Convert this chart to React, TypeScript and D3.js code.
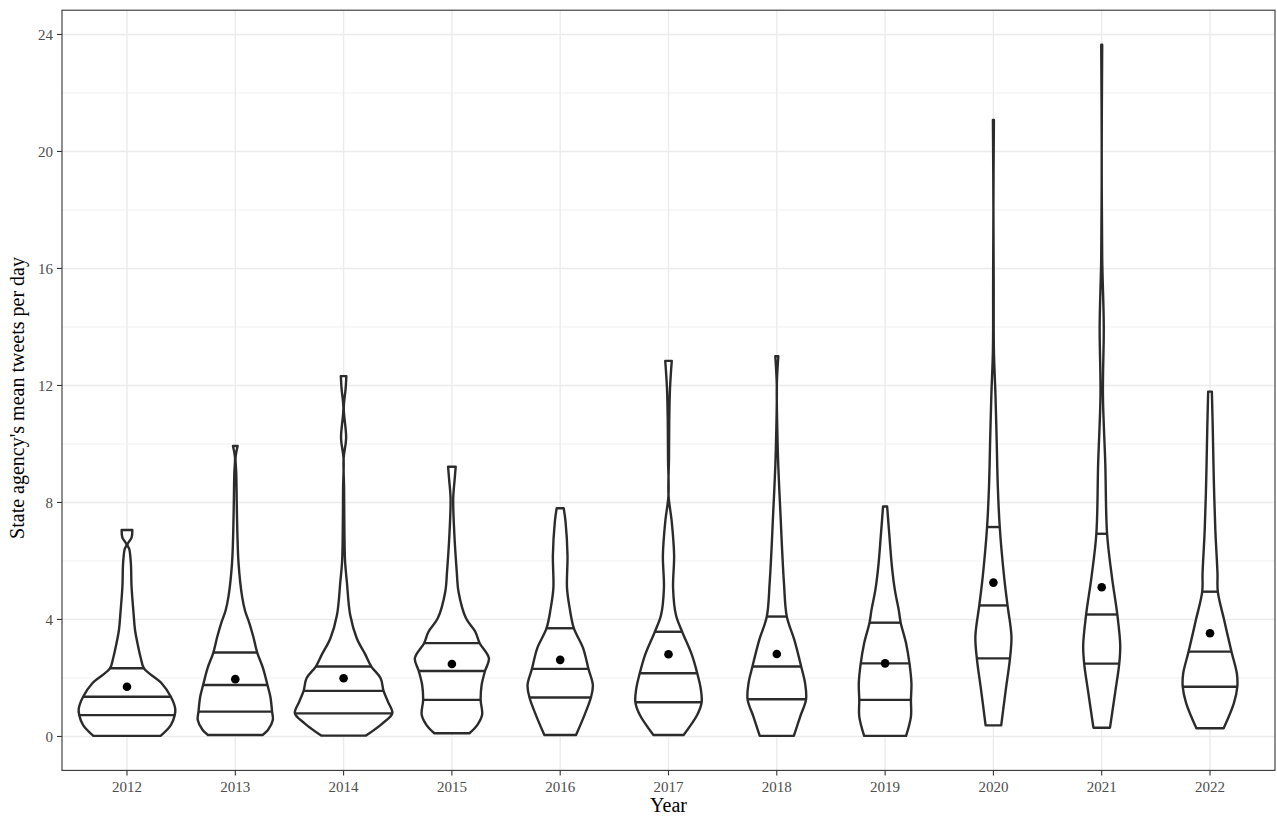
import React from 'react';
import * as d3 from 'd3';

const years = ['2012', '2013', '2014', '2015', '2016', '2017', '2018', '2019', '2020', '2021', '2022'];
const q25 = [0.73, 0.85, 0.79, 1.25, 1.33, 1.17, 1.27, 1.25, 2.67, 2.49, 1.70];
const q50 = [1.36, 1.76, 1.56, 2.24, 2.31, 2.16, 2.39, 2.50, 4.48, 4.17, 2.90];
const q75 = [2.33, 2.87, 2.39, 3.19, 3.70, 3.58, 4.10, 3.89, 7.16, 6.93, 4.95];
const means = [1.70, 1.96, 1.99, 2.48, 2.62, 2.81, 2.82, 2.50, 5.26, 5.10, 3.53];

// [value, relative density width]
const profile2012: [number, number][] = [
  [0.02, 0.69], [0.39, 0.9], [0.73, 0.98], [0.95, 0.99], [1.36, 0.9], [1.82, 0.71], [2.33, 0.35],
  [2.7, 0.28], [3.07, 0.23], [3.64, 0.165], [4.21, 0.135], [5.12, 0.094], [5.92, 0.08], [6.4, 0.048],
  [6.56, 0.01], [6.8, 0.094], [7.06, 0.11],
];
const profile2013: [number, number][] = [
  [0.05, 0.56], [0.22, 0.67], [0.56, 0.77], [0.85, 0.755], [1.36, 0.72], [1.76, 0.66], [2.33, 0.57],
  [2.87, 0.45], [3.41, 0.37], [3.87, 0.29], [4.3, 0.2], [4.78, 0.14], [5.92, 0.067], [7.0, 0.042],
  [8.0, 0.03], [9.0, 0.02], [9.55, 0.006], [9.93, 0.048],
];
const profile2014: [number, number][] = [
  [0.03, 0.46], [0.45, 0.8], [0.79, 1.0], [1.19, 0.91], [1.56, 0.82], [1.99, 0.76], [2.39, 0.57],
  [2.79, 0.45], [3.36, 0.27], [4.15, 0.136], [5.29, 0.067], [6.0, 0.03], [7.0, 0.017], [8.5, 0.01],
  [9.5, 0.0], [10.2, 0.052], [11.22, 0.004], [11.9, 0.042], [12.32, 0.057],
];
const profile2015: [number, number][] = [
  [0.11, 0.36], [0.39, 0.52], [0.74, 0.62], [1.25, 0.59], [1.76, 0.61], [2.24, 0.68], [2.67, 0.76],
  [3.19, 0.57], [3.58, 0.48], [4.04, 0.29], [4.95, 0.136], [5.63, 0.1], [7.0, 0.048], [8.14, 0.027],
  [8.83, 0.059], [9.22, 0.078],
];
const profile2016: [number, number][] = [
  [0.05, 0.325], [0.74, 0.5], [1.33, 0.63], [1.76, 0.67], [2.31, 0.58], [3.02, 0.47], [3.7, 0.28],
  [4.38, 0.195], [5.07, 0.14], [6.2, 0.15], [7.34, 0.11], [7.8, 0.073],
];
const profile2017: [number, number][] = [
  [0.05, 0.31], [0.74, 0.59], [1.17, 0.68], [1.65, 0.66], [2.16, 0.59], [2.79, 0.48], [3.58, 0.28],
  [4.15, 0.153], [5.07, 0.094], [6.2, 0.115], [7.34, 0.067], [8.26, 0.0], [9.5, 0.01], [10.76, 0.015],
  [11.9, 0.031], [12.84, 0.067],
];
const profile2018: [number, number][] = [
  [0.02, 0.35], [0.68, 0.48], [1.27, 0.6], [1.82, 0.58], [2.39, 0.5], [3.3, 0.36], [4.1, 0.205],
  [5.24, 0.147], [6.38, 0.109], [7.51, 0.078], [9.22, 0.031], [10.5, 0.01], [12.0, 0.0], [13.0, 0.031],
];
const profile2019: [number, number][] = [
  [0.02, 0.43], [0.68, 0.53], [1.25, 0.53], [1.82, 0.54], [2.5, 0.5], [3.19, 0.43], [3.89, 0.32],
  [4.32, 0.28], [5.01, 0.2], [5.81, 0.14], [6.95, 0.084], [7.86, 0.042],
];
const profile2020: [number, number][] = [
  [0.38, 0.16], [1.55, 0.25], [2.67, 0.34], [3.42, 0.37], [4.48, 0.29], [5.45, 0.22], [7.16, 0.13],
  [8.56, 0.09], [10.12, 0.067], [11.68, 0.042], [13.2, 0.01], [15.5, 0.006], [18.0, 0.0], [21.08, 0.01],
];
const profile2021: [number, number][] = [
  [0.3, 0.17], [1.55, 0.28], [2.49, 0.36], [3.11, 0.38], [4.17, 0.32], [5.45, 0.21], [6.93, 0.11],
  [9.34, 0.073], [11.68, 0.025], [14.02, 0.042], [16.36, 0.01], [20.0, 0.0], [23.65, 0.01],
];
const profile2022: [number, number][] = [
  [0.28, 0.28], [1.14, 0.49], [1.7, 0.56], [2.16, 0.55], [2.9, 0.44], [3.98, 0.29], [4.95, 0.16],
  [5.58, 0.153], [7.06, 0.109], [8.77, 0.078], [10.48, 0.057], [11.79, 0.038],
];
const profiles = [
  profile2012, profile2013, profile2014, profile2015, profile2016, profile2017,
  profile2018, profile2019, profile2020, profile2021, profile2022,
];

const yTicks = [0, 4, 8, 12, 16, 20, 24];
const yMinorTicks = [2, 6, 10, 14, 18, 22];

function widthAt(p: [number, number][], v: number): number {
  if (v <= p[0][0]) return p[0][1];
  for (let i = 0; i < p.length - 1; i++) {
    const [a, wa] = p[i];
    const [b, wb] = p[i + 1];
    if (v >= a && v <= b) return wa + ((v - a) / (b - a)) * (wb - wa);
  }
  return p[p.length - 1][1];
}

export default function App() {
  const W = 1277;
  const H = 816;
  const left = 62;
  const right = 1275;
  const top = 10.2;
  const bottom = 770.4;
  const font = '"Liberation Serif", "Times New Roman", serif';

  const x = d3.scalePoint<string>().domain(years).range([left, right]).padding(0.6);
  const y = d3.scaleLinear().domain([-1.16, 24.83]).range([bottom, top]);
  const w = d3.scaleLinear().domain([0, 1]).range([0, x.step() * 0.45]);

  const stroke = '#2b2b2b';

  return (
    <svg
      width={W}
      height={H}
      style={{ position: 'absolute', left: 0, top: 0, background: '#fff' }}
      xmlns="http://www.w3.org/2000/svg"
    >
      <rect x={0} y={0} width={W} height={H} fill="#fff" />
      {/* grid */}
      {yMinorTicks.map((t) => (
        <line key={'mn' + t} x1={left} x2={right} y1={y(t)} y2={y(t)} stroke="#EBEBEB" strokeWidth={0.8} />
      ))}
      {yTicks.map((t) => (
        <line key={'mj' + t} x1={left} x2={right} y1={y(t)} y2={y(t)} stroke="#EBEBEB" strokeWidth={1.4} />
      ))}
      {years.map((yr) => (
        <line key={'gx' + yr} x1={x(yr)} x2={x(yr)} y1={top} y2={bottom} stroke="#EBEBEB" strokeWidth={1.4} />
      ))}

      {/* violins */}
      {years.map((yr, i) => {
        const cx = x(yr) as number;
        const p = profiles[i];
        const area = d3
          .area<[number, number]>()
          .y((d) => y(d[0]))
          .x0((d) => cx - w(d[1]))
          .x1((d) => cx + w(d[1]))
          .curve(d3.curveCatmullRom.alpha(0.5));
        const qs = [q25[i], q50[i], q75[i]];
        return (
          <g key={'v' + yr}>
            <path d={area(p) || ''} fill="#fff" stroke={stroke} strokeWidth={2.4} strokeLinejoin="round" />
            {qs.map((q, k) => {
              const hw = w(widthAt(p, q));
              return (
                <line key={k} x1={cx - hw} x2={cx + hw} y1={y(q)} y2={y(q)} stroke={stroke} strokeWidth={2.4} />
              );
            })}
            <circle cx={cx} cy={y(means[i])} r={4.3} fill="#000" />
          </g>
        );
      })}

      {/* panel border */}
      <rect x={left} y={top} width={right - left} height={bottom - top} fill="none" stroke="#333" strokeWidth={1.1} />

      {/* y axis */}
      {yTicks.map((t) => (
        <g key={'yt' + t}>
          <line x1={left - 5} x2={left} y1={y(t)} y2={y(t)} stroke="#333" strokeWidth={1.1} />
          <text
            x={left - 9}
            y={y(t)}
            dy="0.35em"
            textAnchor="end"
            fontFamily={font}
            fontSize={15}
            fill="#4D4D4D"
          >
            {t}
          </text>
        </g>
      ))}

      {/* x axis */}
      {years.map((yr) => (
        <g key={'xt' + yr}>
          <line x1={x(yr)} x2={x(yr)} y1={bottom} y2={bottom + 5} stroke="#333" strokeWidth={1.1} />
          <text
            x={x(yr)}
            y={bottom + 22}
            textAnchor="middle"
            fontFamily={font}
            fontSize={15}
            fill="#4D4D4D"
          >
            {yr}
          </text>
        </g>
      ))}

      <text x={(left + right) / 2} y={812} textAnchor="middle" fontFamily={font} fontSize={20} fill="#000">
        Year
      </text>
      <text
        transform={`translate(24, 398) rotate(-90)`}
        textAnchor="middle"
        fontFamily={font}
        fontSize={20}
        fill="#000"
      >
        State agency's mean tweets per day
      </text>
    </svg>
  );
}
